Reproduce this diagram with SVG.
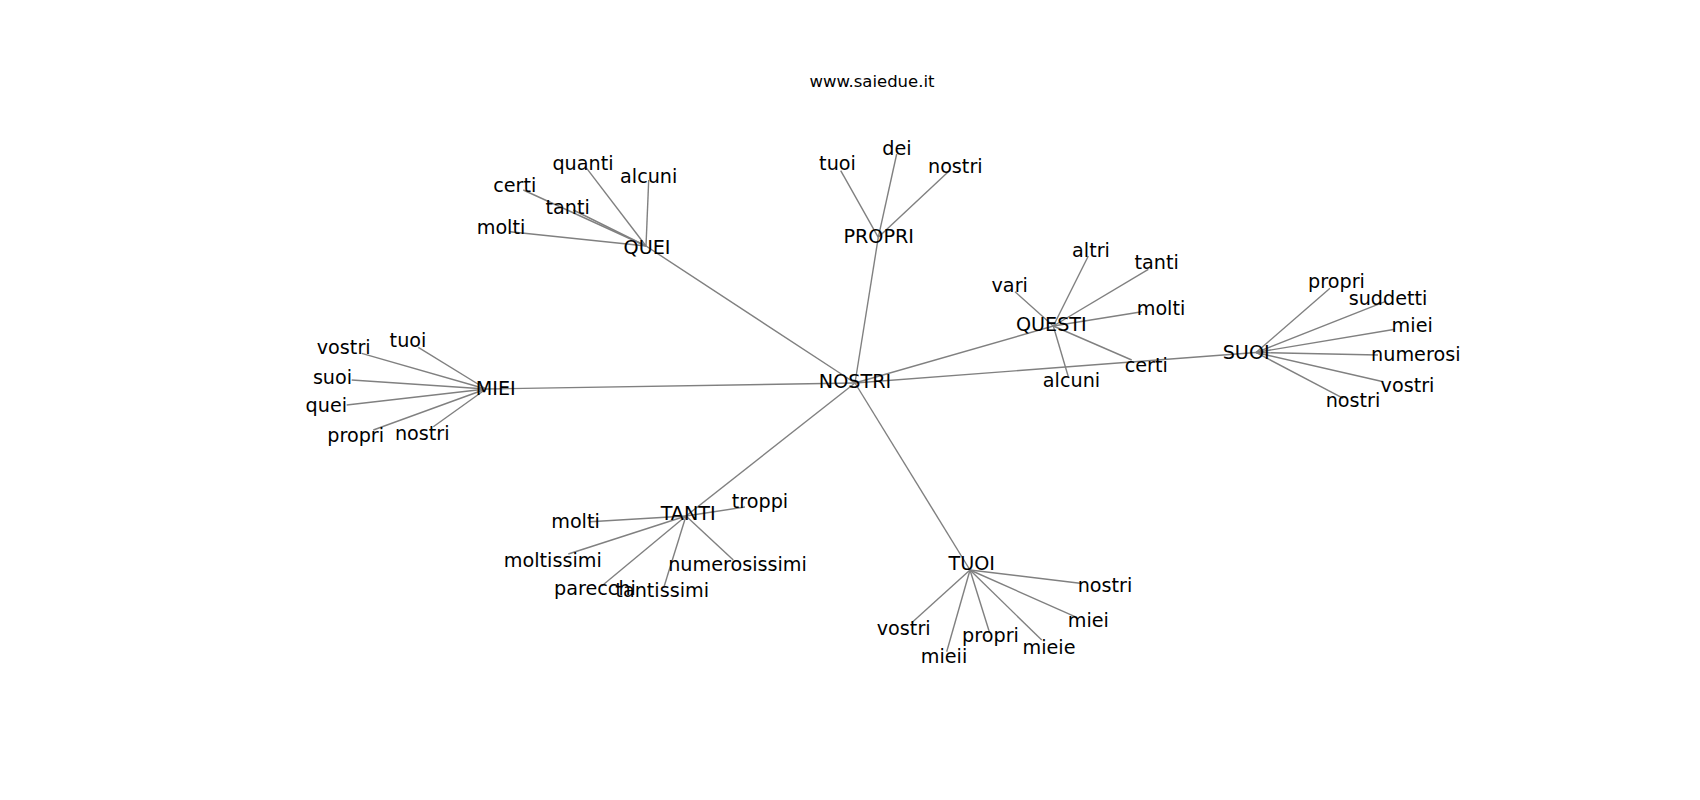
<svg xmlns="http://www.w3.org/2000/svg" width="1700" height="800" viewBox="0 0 1700 800">
<style>
text{font-family:"DejaVu Sans","Liberation Sans",sans-serif;font-size:19.2px;fill:#000;text-anchor:middle}
.title{font-size:16.5px}
#edges line{stroke:#808080;stroke-width:1.4}
</style>
<rect width="1700" height="800" fill="#fff"/>
<g id="edges">
<line x1="855" y1="383" x2="646" y2="246"/>
<line x1="855" y1="383" x2="878.3" y2="237.3"/>
<line x1="855" y1="383" x2="1053.3" y2="326"/>
<line x1="855" y1="383" x2="1256" y2="352.5"/>
<line x1="855" y1="383" x2="486" y2="389"/>
<line x1="855" y1="383" x2="686" y2="516"/>
<line x1="855" y1="383" x2="970" y2="570"/>
<line x1="646" y1="246" x2="586.7" y2="168.3"/>
<line x1="646" y1="246" x2="648.7" y2="180"/>
<line x1="646" y1="246" x2="523.3" y2="190"/>
<line x1="646" y1="246" x2="573.3" y2="210"/>
<line x1="646" y1="246" x2="510" y2="231.7"/>
<line x1="878.3" y1="237.3" x2="840.7" y2="170.7"/>
<line x1="878.3" y1="237.3" x2="896.7" y2="154"/>
<line x1="878.3" y1="237.3" x2="948.3" y2="171.7"/>
<line x1="1053.3" y1="326" x2="1015" y2="291.7"/>
<line x1="1053.3" y1="326" x2="1088.3" y2="256"/>
<line x1="1053.3" y1="326" x2="1148.3" y2="269.3"/>
<line x1="1053.3" y1="326" x2="1142" y2="311.7"/>
<line x1="1053.3" y1="326" x2="1131.7" y2="360"/>
<line x1="1053.3" y1="326" x2="1068.3" y2="376.7"/>
<line x1="1256" y1="352.5" x2="1330" y2="288.3"/>
<line x1="1256" y1="352.5" x2="1385" y2="301.7"/>
<line x1="1256" y1="352.5" x2="1395" y2="329.3"/>
<line x1="1256" y1="352.5" x2="1378" y2="355"/>
<line x1="1256" y1="352.5" x2="1383.3" y2="381.7"/>
<line x1="1256" y1="352.5" x2="1343.3" y2="398.3"/>
<line x1="486" y1="389" x2="418.3" y2="347.3"/>
<line x1="486" y1="389" x2="361.7" y2="353.3"/>
<line x1="486" y1="389" x2="351.7" y2="380"/>
<line x1="486" y1="389" x2="346.7" y2="405"/>
<line x1="486" y1="389" x2="373.3" y2="430"/>
<line x1="486" y1="389" x2="433.3" y2="426.7"/>
<line x1="686" y1="516" x2="745" y2="507"/>
<line x1="686" y1="516" x2="590" y2="521.7"/>
<line x1="686" y1="516" x2="568.3" y2="554"/>
<line x1="686" y1="516" x2="601.7" y2="586"/>
<line x1="686" y1="516" x2="664" y2="586.7"/>
<line x1="686" y1="516" x2="733.3" y2="560"/>
<line x1="970" y1="570" x2="1080" y2="583.3"/>
<line x1="970" y1="570" x2="1075" y2="616.7"/>
<line x1="970" y1="570" x2="1041.7" y2="640"/>
<line x1="970" y1="570" x2="989.3" y2="631.7"/>
<line x1="970" y1="570" x2="946.7" y2="651.7"/>
<line x1="970" y1="570" x2="911.7" y2="622.7"/>
</g>
<g id="title"><text class="title" x="872" y="87">www.saiedue.it</text></g>
<g id="n-NOSTRI"><text x="855" y="388.3">NOSTRI</text></g>
<g id="n-QUEI"><text x="647" y="254.3">QUEI</text></g>
<g id="n-PROPRI"><text x="878.7" y="242.7">PROPRI</text></g>
<g id="n-QUESTI"><text x="1051.3" y="330.7">QUESTI</text></g>
<g id="n-SUOI"><text x="1246.2" y="359">SUOI</text></g>
<g id="n-MIEI"><text x="495.7" y="395">MIEI</text></g>
<g id="n-TANTI"><text x="688.2" y="520">TANTI</text></g>
<g id="n-TUOI"><text x="971.7" y="570">TUOI</text></g>
<g id="quei-quanti"><text x="583" y="170">quanti</text></g>
<g id="quei-alcuni"><text x="648.7" y="183.3">alcuni</text></g>
<g id="quei-certi"><text x="514.7" y="192.3">certi</text></g>
<g id="quei-tanti"><text x="567.7" y="214.3">tanti</text></g>
<g id="quei-molti"><text x="501" y="234.3">molti</text></g>
<g id="propri-tuoi"><text x="837.5" y="170">tuoi</text></g>
<g id="propri-dei"><text x="897" y="155">dei</text></g>
<g id="propri-nostri"><text x="955.3" y="173.3">nostri</text></g>
<g id="questi-vari"><text x="1009.7" y="291.7">vari</text></g>
<g id="questi-altri"><text x="1091" y="256.7">altri</text></g>
<g id="questi-tanti"><text x="1156.7" y="268.7">tanti</text></g>
<g id="questi-molti"><text x="1161" y="315">molti</text></g>
<g id="questi-certi"><text x="1146.3" y="371.7">certi</text></g>
<g id="questi-alcuni"><text x="1071.5" y="386.7">alcuni</text></g>
<g id="suoi-propri"><text x="1336.5" y="288.3">propri</text></g>
<g id="suoi-suddetti"><text x="1388" y="305">suddetti</text></g>
<g id="suoi-miei"><text x="1412.2" y="331.7">miei</text></g>
<g id="suoi-numerosi"><text x="1415.8" y="360.7">numerosi</text></g>
<g id="suoi-vostri"><text x="1407.5" y="391.7">vostri</text></g>
<g id="suoi-nostri"><text x="1353" y="406.7">nostri</text></g>
<g id="miei-tuoi"><text x="408" y="346.7">tuoi</text></g>
<g id="miei-vostri"><text x="343.7" y="354">vostri</text></g>
<g id="miei-suoi"><text x="332.5" y="384">suoi</text></g>
<g id="miei-quei"><text x="326.3" y="411.7">quei</text></g>
<g id="miei-propri"><text x="355.7" y="441.7">propri</text></g>
<g id="miei-nostri"><text x="422.2" y="440">nostri</text></g>
<g id="tanti-troppi"><text x="760" y="508.3">troppi</text></g>
<g id="tanti-molti"><text x="575.5" y="528.3">molti</text></g>
<g id="tanti-moltissimi"><text x="552.8" y="567.3">moltissimi</text></g>
<g id="tanti-parecchi"><text x="595" y="595">parecchi</text></g>
<g id="tanti-tantissimi"><text x="662.2" y="596.7">tantissimi</text></g>
<g id="tanti-numerosissimi"><text x="737.5" y="570.7">numerosissimi</text></g>
<g id="tuoi-nostri"><text x="1105" y="592.3">nostri</text></g>
<g id="tuoi-miei"><text x="1088.3" y="626.7">miei</text></g>
<g id="tuoi-mieie"><text x="1049" y="654">mieie</text></g>
<g id="tuoi-propri"><text x="990.5" y="641.7">propri</text></g>
<g id="tuoi-mieii"><text x="944" y="663.3">mieii</text></g>
<g id="tuoi-vostri"><text x="903.7" y="635">vostri</text></g>
</svg>
